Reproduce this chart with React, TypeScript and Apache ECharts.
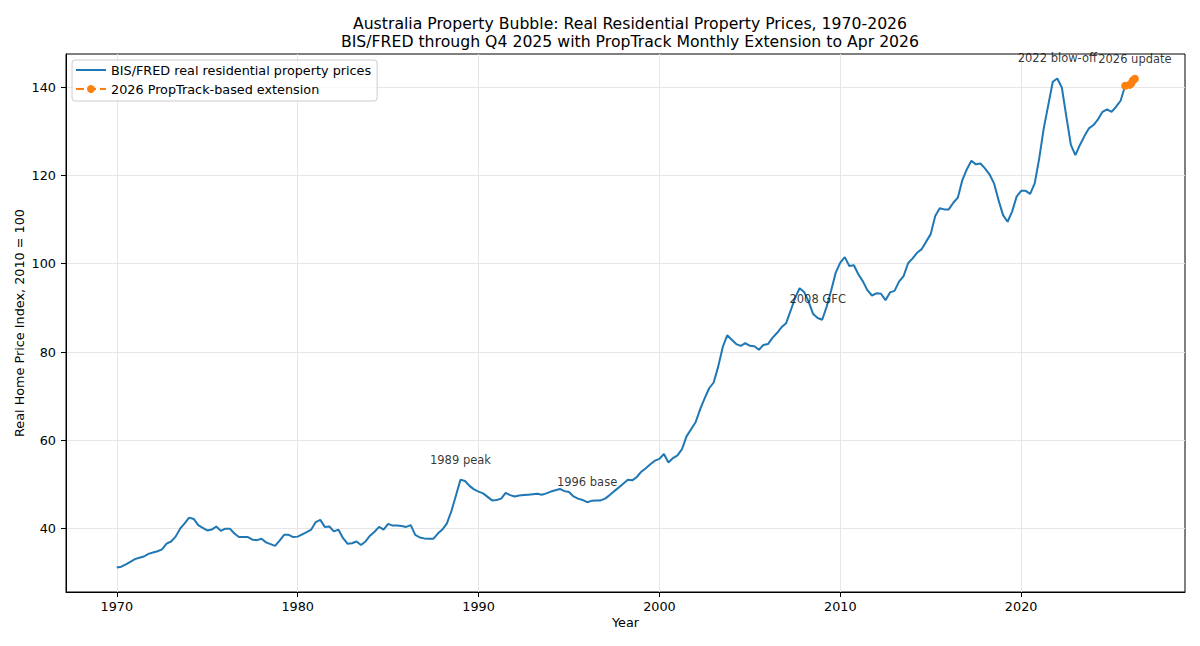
import React, { useEffect, useRef } from "react";
import * as echarts from "echarts";

// ---- Data ----
const START_YEAR = 1970; // first quarter of BIS/FRED series (quarterly)
const bisQuarterly = [
  // 1970
  31.2, 31.4, 31.9, 32.5,
  // 1971
  33.1, 33.4, 33.7, 34.3,
  // 1972
  34.6, 34.9, 35.3, 36.6,
  // 1973
  37.1, 38.2, 40.0, 41.2,
  // 1974
  42.5, 42.2, 40.8, 40.2,
  // 1975
  39.6, 39.8, 40.5, 39.5,
  // 1976
  40.0, 40.0, 38.9, 38.1,
  // 1977
  38.1, 38.1, 37.5, 37.4,
  // 1978
  37.7, 36.9, 36.5, 36.1,
  // 1979
  37.3, 38.6, 38.6, 38.1,
  // 1980
  38.2, 38.7, 39.2, 39.8,
  // 1981
  41.5, 42.0, 40.4, 40.5,
  // 1982
  39.4, 39.8, 37.9, 36.6,
  // 1983
  36.7, 37.1, 36.3, 37.1,
  // 1984
  38.4, 39.3, 40.4, 39.8,
  // 1985
  41.1, 40.7, 40.7, 40.6,
  // 1986
  40.4, 40.8, 38.6, 38.0,
  // 1987
  37.8, 37.7, 37.7, 38.9,
  // 1988
  39.8, 41.2, 44.0, 47.5,
  // 1989
  51.1, 50.8, 49.7, 48.9,
  // 1990
  48.4, 48.0, 47.2, 46.4,
  // 1991
  46.5, 46.8, 48.1, 47.6,
  // 1992
  47.3, 47.5, 47.6, 47.7,
  // 1993
  47.8, 47.9, 47.7, 48.0,
  // 1994
  48.4, 48.7, 49.0, 48.5,
  // 1995
  48.3, 47.3, 46.8, 46.5,
  // 1996
  46.0, 46.3, 46.4, 46.4,
  // 1997
  46.8, 47.6, 48.5, 49.3,
  // 1998
  50.2, 51.1, 50.95, 51.7,
  // 1999
  52.9, 53.7, 54.6, 55.4,
  // 2000
  55.8, 56.9, 55.0, 56.0,
  // 2001
  56.6, 58.0, 60.9, 62.5,
  // 2002
  64.1, 67.0, 69.5, 71.8,
  // 2003
  73.1, 76.7, 81.1, 83.8,
  // 2004
  82.8, 81.8, 81.4, 82.0,
  // 2005
  81.4, 81.3, 80.5, 81.6,
  // 2006
  81.8, 83.2, 84.3, 85.6,
  // 2007
  86.5, 89.3, 92.2, 94.45,
  // 2008
  93.6, 91.4, 88.6, 87.7,
  // 2009
  87.3, 90.3, 94.0, 98.0,
  // 2010
  100.25, 101.5, 99.5, 99.65,
  // 2011
  97.6, 96.0, 94.0, 92.8,
  // 2012
  93.3, 93.2, 91.75, 93.5,
  // 2013
  93.85, 95.95, 97.2, 100.1,
  // 2014
  101.2, 102.5, 103.3, 105.0,
  // 2015
  106.7, 110.8, 112.55, 112.3,
  // 2016
  112.3, 113.8, 114.95, 118.95,
  // 2017
  121.4, 123.3, 122.5, 122.7,
  // 2018
  121.6, 120.25, 118.2, 114.4,
  // 2019
  111.0, 109.5, 111.8, 115.2,
  // 2020
  116.5, 116.5, 115.8, 118.2,
  // 2021
  123.85, 130.65, 135.9, 141.2,
  // 2022
  141.95, 139.9, 133.3, 126.9,
  // 2023
  124.6, 126.9, 128.9, 130.65,
  // 2024
  131.4, 132.7, 134.4, 134.95,
  // 2025
  134.4, 135.55, 136.9, 140.3,
];

const extDates = [2025.75, 2026.0, 2026.08, 2026.17, 2026.29];
const extValues = [140.3, 140.5, 140.8, 141.5, 141.9];

const xTicks = [1970, 1980, 1990, 2000, 2010, 2020];
const yTicks = [40, 60, 80, 100, 120, 140];

const annotationLabels = ["1989 peak", "1996 base", "2008 GFC", "2022 blow-off", "2026 update"];
const annotationX = [1989.0, 1996.0, 2008.75, 2022.0, 2026.29];
const annotationY = [51.1, 46.0, 87.5, 141.95, 141.9];

const titleLines = [
  "Australia Property Bubble: Real Residential Property Prices, 1970-2026",
  "BIS/FRED through Q4 2025 with PropTrack Monthly Extension to Apr 2026",
];

const SERIES_BIS = "BIS/FRED real residential property prices";
const SERIES_EXT = "2026 PropTrack-based extension";

const FONT = "DejaVu Sans";
const BASE = 12.8;
const ANN = 11.5;
const TITLE = 15.7;

export default function App() {
  const ref = useRef<HTMLDivElement>(null);

  useEffect(() => {
    document.body.style.margin = "0";
    if (!ref.current) return;
    const chart = echarts.init(ref.current, null, { renderer: "svg" });

    const bisData = bisQuarterly.map((v, i) => [START_YEAR + i / 4, v]);
    const extData = extDates.map((d, i) => [d, extValues[i]]);
    const annData = annotationLabels.map((name, i) => ({
      name,
      value: [annotationX[i], annotationY[i]],
    }));

    const option: any = {
      animation: false,
      backgroundColor: "#ffffff",
      textStyle: { fontFamily: FONT },
      graphic: [
        {
          type: "text",
          x: 630,
          y: 23.5,
          style: {
            text: titleLines[0],
            font: `${TITLE}px "${FONT}"`,
            fill: "#000",
            textAlign: "center",
            textVerticalAlign: "middle",
          },
        },
        {
          type: "text",
          x: 630,
          y: 41.5,
          style: {
            text: titleLines[1],
            font: `${TITLE}px "${FONT}"`,
            fill: "#000",
            textAlign: "center",
            textVerticalAlign: "middle",
          },
        },
      ],
      grid: {
        left: 66,
        right: 15,
        top: 54,
        bottom: 54,
        show: true,
        borderColor: "#000",
        borderWidth: 1,
        backgroundColor: "transparent",
        containLabel: false,
        outerBoundsMode: "none",
      },
      legend: {
        orient: "vertical",
        left: 72,
        top: 60,
        data: [
          { name: SERIES_BIS, itemStyle: { color: "rgba(0,0,0,0)", borderWidth: 0, opacity: 0 } },
          { name: SERIES_EXT },
        ],
        itemWidth: 30,
        itemHeight: 10,
        itemGap: 5,
        padding: [3, 6, 5, 3],
        backgroundColor: "rgba(255,255,255,0.8)",
        borderColor: "#cccccc",
        borderWidth: 1,
        borderRadius: 3,
        textStyle: { fontFamily: FONT, fontSize: BASE, color: "#000", lineHeight: 14 },
      },
      xAxis: {
        type: "value",
        min: 1967.19,
        max: 2029.06,
        minInterval: 10,
        maxInterval: 10,
        name: "Year",
        nameLocation: "middle",
        nameGap: 24,
        nameMoveOverlap: false,
        nameTextStyle: { fontFamily: FONT, fontSize: BASE, color: "#000" },
        axisLine: { show: true, lineStyle: { color: "#000", width: 1 } },
        axisTick: { show: true, length: 5, inside: false, customValues: xTicks, lineStyle: { color: "#000", width: 1 } },
        axisLabel: {
          customValues: xTicks,
          margin: 8,
          fontFamily: FONT,
          fontSize: BASE,
          color: "#000",
          formatter: (v: number) => String(v),
        },
        splitLine: { show: true, lineStyle: { color: "#e6e6e6", width: 1 } },
      },
      yAxis: {
        type: "value",
        min: 25.66,
        max: 147.49,
        minInterval: 20,
        maxInterval: 20,
        name: "Real Home Price Index, 2010 = 100",
        nameLocation: "middle",
        nameGap: 40,
        nameMoveOverlap: false,
        nameTextStyle: { fontFamily: FONT, fontSize: BASE, color: "#000" },
        axisLine: { show: true, lineStyle: { color: "#000", width: 1 } },
        axisTick: { show: true, length: 5, inside: false, customValues: yTicks, lineStyle: { color: "#000", width: 1 } },
        axisLabel: {
          customValues: yTicks,
          margin: 10,
          fontFamily: FONT,
          fontSize: BASE,
          color: "#000",
          formatter: (v: number) => String(v),
        },
        splitLine: { show: true, lineStyle: { color: "#e6e6e6", width: 1 } },
      },
      series: [
        {
          name: SERIES_BIS,
          type: "line",
          data: bisData,
          symbol: "none",
          lineStyle: { color: "#1f77b4", width: 2 },
          itemStyle: { color: "#1f77b4" },
          z: 3,
        },
        {
          name: SERIES_EXT,
          type: "line",
          data: extData,
          symbol: "circle",
          symbolSize: 8,
          showSymbol: true,
          lineStyle: { color: "#ff7f0e", width: 2, type: "dashed" },
          itemStyle: { color: "#ff7f0e" },
          z: 4,
        },
        {
          name: "annotations",
          type: "scatter",
          data: annData,
          symbolSize: 0,
          silent: true,
          z: 5,
          label: {
            show: true,
            position: "top",
            distance: 14,
            formatter: (p: any) => p.name,
            fontFamily: FONT,
            fontSize: ANN,
            color: "#000",
          },
        },
      ],
    };

    chart.setOption(option);
    return () => chart.dispose();
  }, []);

  return <div ref={ref} style={{ width: 1200, height: 646 }} />;
}
